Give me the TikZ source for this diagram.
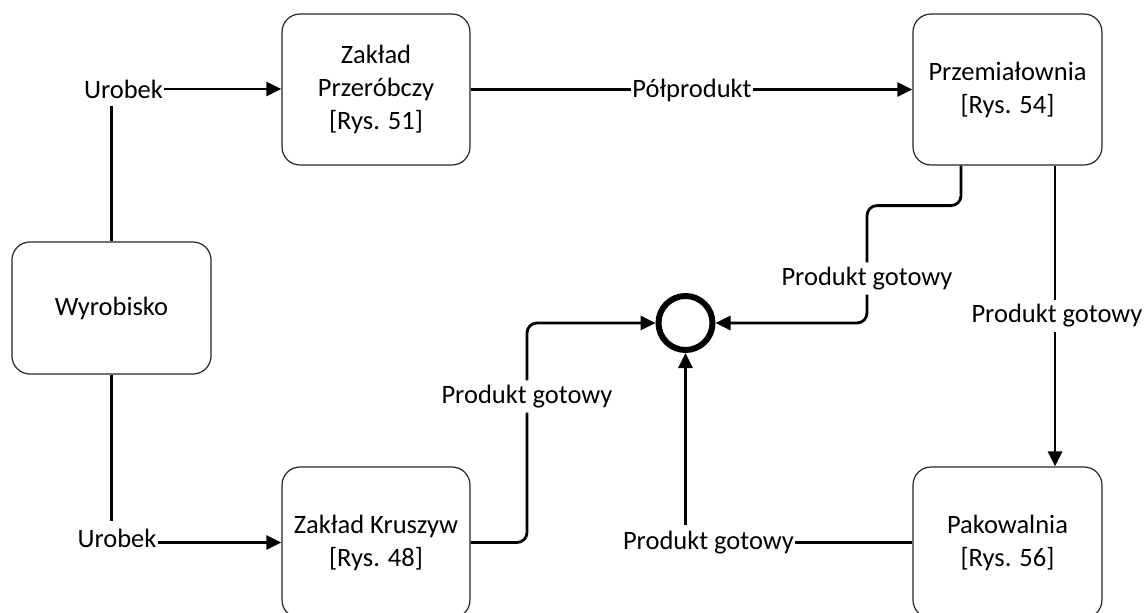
\documentclass[tikz,border=0pt]{standalone}
\usepackage{fontspec}
\setmainfont{Carlito}
\usetikzlibrary{arrows.meta}

\begin{document}
\begin{tikzpicture}[
  x=1pt, y=-1pt,
  every node/.style={font=\fontsize{26.5}{33}\selectfont},
  unit/.style={draw=black!85, line width=1.2pt, rounded corners=18pt,
               align=center, inner sep=0pt},
  link/.style={line width=2.8pt, line join=round},
  flow/.style={link, -{Triangle[length=15pt,width=14pt]}},
  tag/.style={fill=white, inner xsep=1pt, inner ysep=4.5pt},
  junction/.style={circle, draw, line width=6pt, minimum size=54pt, inner sep=0pt}
]
% page frame
\fill[white] (0,0) rectangle (1146,613);
\useasboundingbox (0,0) rectangle (1146,613);

% process units
\node[unit, minimum width=199pt, minimum height=132pt] (wy) at (111.5,308) {Wyrobisko};
\node[unit, minimum width=188pt, minimum height=151pt] (zp) at (376,89.5)
  {Zakład\\Przeróbczy\\{}[Rys. 51]};
\node[unit, minimum width=189pt, minimum height=151pt] (pm) at (1007.5,89.5)
  {Przemiałownia\\{}[Rys. 54]};
\node[unit, minimum width=188pt, minimum height=151pt] (kz) at (376,542.5)
  {Zakład Kruszyw\\{}[Rys. 48]};
\node[unit, minimum width=189pt, minimum height=151pt] (pk) at (1007.5,542.5)
  {Pakowalnia\\{}[Rys. 56]};

% collecting point
\node[junction] (ci) at (685.5,323) {};

% flow labels
\node[tag, inner ysep=8pt] (u1) at (123.5,89) {Urobek};
\node[tag, inner ysep=8pt] (u2) at (117,538) {Urobek};
\node[tag] (l0) at (692,90) {Półprodukt};
\node[tag] (l1) at (867,278.5) {Produkt gotowy};
\node[tag] (l2) at (527,396.5) {Produkt gotowy};
\node[tag] (l3) at (1057,316) {Produkt gotowy};
\node[tag, inner ysep=6pt] (l4) at (708.5,543) {Produkt gotowy};

% raw material from the pit
\draw[link] (wy.north) -- (wy.north |- u1.south);
\draw[flow] (u1.east) -- (u1.east -| zp.west);
\draw[link] (wy.south) -- (wy.south |- u2.north);
\draw[flow] (u2.east |- kz.west) -- (kz.west);

% semi-product
\draw[link] (zp.east) -- (zp.east -| l0.west);
\draw[flow] (l0.east |- pm.west) -- (pm.west);

% mill outputs
\draw[link, rounded corners=10pt] ([xshift=-46.5pt]pm.south) -- ++(0,40) -| (l1.north);
\draw[flow, rounded corners=10pt] (l1.south) |- (ci.east);
\draw[link] ([xshift=47.5pt]pm.south) -- ([xshift=47.5pt]pm.south |- l3.north);
\draw[flow] ([xshift=47.5pt]pm.south |- l3.south) -- ([xshift=47.5pt]pk.north);

% aggregate plant output
\draw[link, rounded corners=10pt] (kz.east) -| (l2.south);
\draw[flow, rounded corners=10pt] (l2.north) |- (ci.west);

% packing plant output
\draw[link] (pk.west) -- (pk.west -| l4.east);
\draw[flow] (ci |- l4.north) -- (ci.south);
\end{tikzpicture}
\end{document}
